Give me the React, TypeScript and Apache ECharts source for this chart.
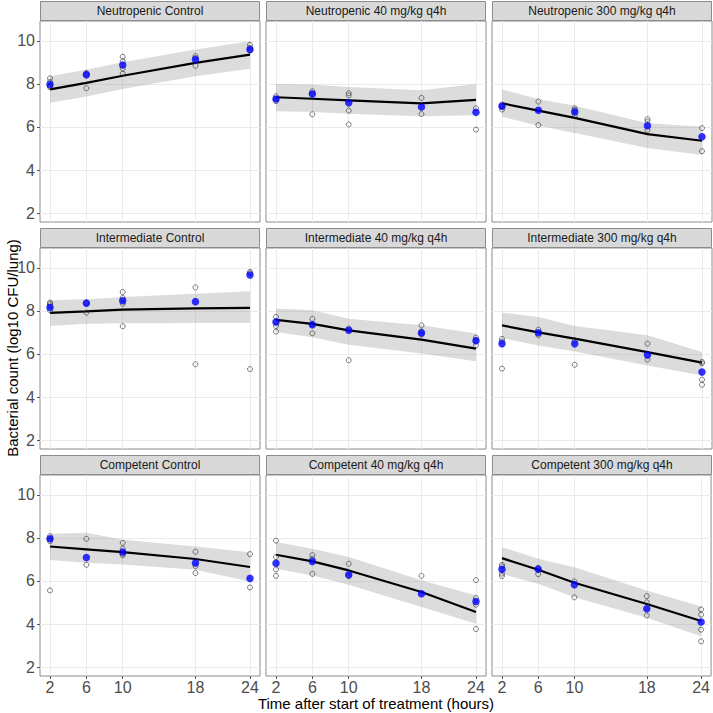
import React, { useEffect, useRef } from "react";
import * as echarts from "echarts";

// Sampling times (hours) and axis breaks
const TIMES = [2, 6, 10, 18, 24];
const X_TICKS = [2, 6, 10, 18, 24];
const Y_TICKS = [2, 4, 6, 8, 10];

// Neutropenic Control
const ncObs = [[2, 8.26], [2, 8.1], [2, 7.9], [2, 7.85], [6, 8.51], [6, 8.42], [6, 7.8], [10, 9.26], [10, 9.05], [10, 8.71], [10, 8.48], [18, 9.29], [18, 9.2], [18, 8.84], [24, 9.81], [24, 9.68], [24, 9.55]];
const ncMean = [7.97, 8.43, 8.88, 9.13, 9.6];
const ncPred = [7.75, 8.05, 8.38, 8.98, 9.36];
const ncLo = [7.12, 7.42, 7.76, 8.35, 8.7];
const ncHi = [8.36, 8.66, 9.0, 9.6, 9.98];

// Neutropenic 40 mg/kg q4h
const n40Obs = [[2, 7.43], [2, 7.3], [2, 7.2], [6, 7.66], [6, 7.55], [6, 6.59], [10, 7.57], [10, 7.47], [10, 6.76], [10, 6.12], [18, 7.35], [18, 6.6], [24, 6.87], [24, 5.88]];
const n40Mean = [7.3, 7.53, 7.12, 6.93, 6.68];
const n40Pred = [7.38, 7.31, 7.24, 7.1, 7.26];
const n40Lo = [6.73, 6.7, 6.62, 6.5, 6.54];
const n40Hi = [8.0, 7.97, 7.86, 7.71, 8.0];

// Neutropenic 300 mg/kg q4h
const n300Obs = [[2, 7.04], [2, 6.95], [2, 6.81], [6, 7.18], [6, 6.09], [10, 6.87], [10, 6.79], [10, 6.53], [18, 6.37], [18, 6.26], [18, 5.86], [24, 5.95], [24, 4.88]];
const n300Mean = [6.96, 6.78, 6.7, 6.06, 5.55];
const n300Pred = [7.1, 6.76, 6.42, 5.67, 5.36];
const n300Lo = [6.47, 6.06, 5.72, 5.02, 4.7];
const n300Hi = [7.74, 7.3, 6.99, 6.17, 6.02];

// Intermediate Control
const icObs = [[2, 8.39], [2, 8.33], [2, 8.26], [2, 8.03], [6, 8.38], [6, 7.92], [10, 8.88], [10, 8.6], [10, 8.33], [10, 7.29], [18, 9.09], [18, 5.52], [24, 9.81], [24, 9.75], [24, 5.3]];
const icMean = [8.16, 8.36, 8.47, 8.43, 9.67];
const icPred = [7.91, 7.98, 8.06, 8.12, 8.14];
const icLo = [7.3, 7.4, 7.43, 7.44, 7.44];
const icHi = [8.5, 8.54, 8.65, 8.8, 8.91];

// Intermediate 40 mg/kg q4h
const i40Obs = [[2, 7.72], [2, 7.49], [2, 7.3], [2, 7.04], [6, 7.63], [6, 7.38], [6, 6.96], [10, 7.18], [10, 5.71], [18, 7.33], [18, 7.05], [18, 6.9], [24, 6.76], [24, 6.62], [24, 6.4]];
const i40Mean = [7.49, 7.36, 7.1, 6.98, 6.62];
const i40Pred = [7.58, 7.4, 7.1, 6.67, 6.25];
const i40Lo = [7.02, 6.78, 6.43, 6.02, 5.66];
const i40Hi = [8.11, 8.03, 7.64, 7.33, 6.95];

// Intermediate 300 mg/kg q4h
const i300Obs = [[2, 6.7], [2, 6.59], [2, 5.32], [6, 7.13], [6, 6.87], [10, 6.64], [10, 5.5], [18, 6.48], [18, 5.74], [24, 5.63], [24, 5.57], [24, 4.81], [24, 4.57]];
const i300Mean = [6.48, 6.99, 6.47, 5.95, 5.16];
const i300Pred = [7.33, 7.0, 6.71, 6.09, 5.6];
const i300Lo = [6.74, 6.4, 6.12, 5.47, 5.0];
const i300Hi = [7.92, 7.72, 7.3, 6.87, 6.09];

// Competent Control
const ccObs = [[2, 8.08], [2, 7.93], [2, 7.84], [2, 5.56], [6, 7.96], [6, 6.75], [10, 7.77], [10, 7.5], [10, 7.26], [10, 7.19], [18, 7.36], [18, 6.69], [18, 6.37], [24, 7.25], [24, 5.7]];
const ccMean = [7.96, 7.09, 7.34, 6.83, 6.12];
const ccPred = [7.6, 7.47, 7.34, 7.02, 6.65];
const ccLo = [6.97, 6.85, 6.77, 6.52, 5.98];
const ccHi = [8.19, 8.24, 7.91, 7.6, 7.34];

// Competent 40 mg/kg q4h
const c40Obs = [[2, 7.87], [2, 7.11], [2, 6.54], [2, 6.24], [6, 7.2], [6, 7.03], [6, 6.33], [10, 6.8], [10, 6.22], [18, 6.24], [24, 6.04], [24, 5.21], [24, 4.9], [24, 3.77]];
const c40Mean = [6.82, 6.91, 6.29, 5.41, 5.05];
const c40Pred = [7.22, 6.91, 6.49, 5.49, 4.56];
const c40Lo = [6.57, 6.26, 5.83, 4.79, 4.02];
const c40Hi = [7.81, 7.5, 7.11, 6.03, 5.33];

// Competent 300 mg/kg q4h
const c300Obs = [[2, 6.75], [2, 6.68], [2, 6.34], [2, 6.23], [6, 6.61], [6, 6.32], [10, 5.98], [10, 5.24], [18, 5.3], [18, 5.01], [18, 4.4], [24, 4.68], [24, 4.44], [24, 3.74], [24, 3.2]];
const c300Mean = [6.54, 6.55, 5.83, 4.71, 4.1];
const c300Pred = [7.06, 6.52, 5.92, 4.93, 4.14];
const c300Lo = [6.32, 5.87, 5.25, 4.29, 3.43];
const c300Hi = [7.57, 7.03, 6.64, 5.56, 4.82];

const PANEL_TITLES = [
  "Neutropenic Control",
  "Neutropenic 40 mg/kg q4h",
  "Neutropenic 300 mg/kg q4h",
  "Intermediate Control",
  "Intermediate 40 mg/kg q4h",
  "Intermediate 300 mg/kg q4h",
  "Competent Control",
  "Competent 40 mg/kg q4h",
  "Competent 300 mg/kg q4h",
];

const PANELS = [
  { obs: ncObs, mean: ncMean, pred: ncPred, lo: ncLo, hi: ncHi },
  { obs: n40Obs, mean: n40Mean, pred: n40Pred, lo: n40Lo, hi: n40Hi },
  { obs: n300Obs, mean: n300Mean, pred: n300Pred, lo: n300Lo, hi: n300Hi },
  { obs: icObs, mean: icMean, pred: icPred, lo: icLo, hi: icHi },
  { obs: i40Obs, mean: i40Mean, pred: i40Pred, lo: i40Lo, hi: i40Hi },
  { obs: i300Obs, mean: i300Mean, pred: i300Pred, lo: i300Lo, hi: i300Hi },
  { obs: ccObs, mean: ccMean, pred: ccPred, lo: ccLo, hi: ccHi },
  { obs: c40Obs, mean: c40Mean, pred: c40Pred, lo: c40Lo, hi: c40Hi },
  { obs: c300Obs, mean: c300Mean, pred: c300Pred, lo: c300Lo, hi: c300Hi },
];

// Facet layout (pixels)
const COL_LEFT = [40, 266, 492];
const ROW_TOP = [21, 248, 475];
const PANEL_W = 220;
const PANEL_H = 201;
const STRIP_H = 20;

const FONT = "'Liberation Sans', Arial, Helvetica, sans-serif";
const BORDER = "#8C8C8C";

export default function App() {
  const ref = useRef<HTMLDivElement>(null);

  useEffect(() => {
    if (!ref.current) return;
    const chart = echarts.init(ref.current, null, { renderer: "svg" });

    const grids: any[] = [];
    const xAxes: any[] = [];
    const yAxes: any[] = [];
    const series: any[] = [];
    const graphics: any[] = [];

    PANELS.forEach((p, i) => {
      const row = Math.floor(i / 3);
      const col = i % 3;
      const left = COL_LEFT[col];
      const top = ROW_TOP[row];

      grids.push({
        left,
        top,
        width: PANEL_W,
        height: PANEL_H,
        show: true,
        backgroundColor: "#fff",
        borderColor: BORDER,
        borderWidth: 1,
        containLabel: false,
      });

      const bottomRow = row === 2;
      const leftCol = col === 0;

      xAxes.push({
        type: "value",
        gridIndex: i,
        min: 0.9,
        max: 25.1,
        axisLine: { show: false },
        axisTick: {
          show: bottomRow,
          customValues: X_TICKS,
          length: 3,
          lineStyle: { color: "#555", width: 1 },
        },
        axisLabel: {
          show: bottomRow,
          customValues: X_TICKS,
          fontSize: 16,
          color: "#4D4D4D",
          fontFamily: FONT,
          margin: 3,
        },
        splitLine: { show: true, lineStyle: { color: "#EBEBEB", width: 1 } },
      });

      yAxes.push({
        type: "value",
        gridIndex: i,
        min: 1.59,
        max: 10.92,
        axisLine: { show: false },
        axisTick: {
          show: leftCol,
          customValues: Y_TICKS,
          length: 3,
          lineStyle: { color: "#555", width: 1 },
        },
        axisLabel: {
          show: leftCol,
          customValues: Y_TICKS,
          fontSize: 16,
          color: "#4D4D4D",
          fontFamily: FONT,
          margin: 5,
        },
        splitLine: { show: true, lineStyle: { color: "#EBEBEB", width: 1 } },
      });

      // prediction interval ribbon
      series.push({
        type: "custom",
        xAxisIndex: i,
        yAxisIndex: i,
        silent: true,
        z: 1,
        data: TIMES.map((t, k) => [t, p.lo[k], p.hi[k]]),
        encode: { x: 0, y: [1, 2] },
        renderItem: (params: any, api: any) => {
          if (params.dataIndex !== 0) return null;
          const upper = p.hi.map((v, k) => api.coord([TIMES[k], v]));
          const lower = p.lo.map((v, k) => api.coord([TIMES[k], v])).reverse();
          return {
            type: "polygon",
            shape: { points: upper.concat(lower) },
            style: { fill: "rgba(140,140,140,0.3)" },
          };
        },
      });

      // model prediction
      series.push({
        type: "line",
        xAxisIndex: i,
        yAxisIndex: i,
        silent: true,
        z: 2,
        symbol: "none",
        data: TIMES.map((t, k) => [t, p.pred[k]]),
        lineStyle: { color: "#000", width: 2.2 },
      });

      // individual observations
      series.push({
        type: "scatter",
        xAxisIndex: i,
        yAxisIndex: i,
        silent: true,
        z: 3,
        symbol: "circle",
        symbolSize: 5,
        data: p.obs,
        itemStyle: { color: "rgba(0,0,0,0)", borderColor: "#333", borderWidth: 0.8 },
      });

      // observed means
      series.push({
        type: "scatter",
        xAxisIndex: i,
        yAxisIndex: i,
        silent: true,
        z: 4,
        symbol: "circle",
        symbolSize: 7.5,
        data: TIMES.map((t, k) => [t, p.mean[k]]),
        itemStyle: { color: "#0000FF" },
      });

      // facet strip
      graphics.push({
        type: "rect",
        shape: { x: left + 0.5, y: top - STRIP_H + 0.5, width: PANEL_W - 1, height: STRIP_H - 1 },
        style: { fill: "#D9D9D9", stroke: BORDER, lineWidth: 1 },
        silent: true,
      });
      graphics.push({
        type: "text",
        x: left + PANEL_W / 2,
        y: top - STRIP_H / 2,
        style: {
          text: PANEL_TITLES[i],
          fontSize: 12,
          fontFamily: FONT,
          fill: "#1A1A1A",
          align: "center",
          verticalAlign: "middle",
        },
        silent: true,
      });
    });

    graphics.push({
      type: "text",
      x: 376,
      y: 703,
      style: {
        text: "Time after start of treatment (hours)",
        fontSize: 15,
        fontFamily: FONT,
        fill: "#000",
        align: "center",
        verticalAlign: "middle",
      },
      silent: true,
    });
    graphics.push({
      type: "text",
      x: 12,
      y: 348,
      rotation: Math.PI / 2,
      style: {
        text: "Bacterial count (log10 CFU/lung)",
        fontSize: 15,
        fontFamily: FONT,
        fill: "#000",
        align: "center",
        verticalAlign: "middle",
      },
      silent: true,
    });

    chart.setOption({
      animation: false,
      backgroundColor: "#fff",
      grid: grids,
      xAxis: xAxes,
      yAxis: yAxes,
      series,
      graphic: graphics,
    });

    return () => chart.dispose();
  }, []);

  return (
    <div
      ref={ref}
      style={{ position: "absolute", left: 0, top: 0, width: 713, height: 713 }}
    />
  );
}
